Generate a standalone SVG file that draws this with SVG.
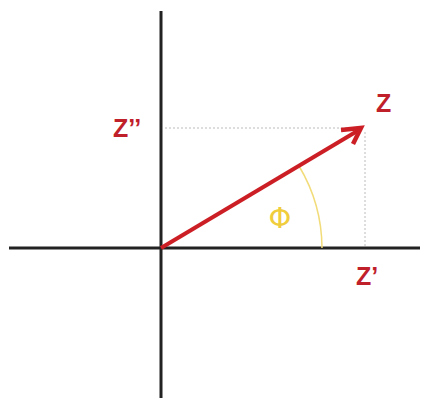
<svg xmlns="http://www.w3.org/2000/svg" width="422" height="403" viewBox="0 0 422 403">
<style>
.axis{stroke:#222;stroke-width:3;fill:none}
.dot{stroke:#bbb;stroke-width:1;stroke-dasharray:2 2;fill:none}
.lbl{font-family:"Liberation Sans",Arial,sans-serif;font-weight:bold;font-size:25px;fill:#c0202a}
</style>
<rect width="422" height="403" fill="#fff"/>
<g id="axes">
<line class="axis" x1="9" y1="248" x2="420" y2="248"/>
<line class="axis" x1="161" y1="11" x2="161" y2="398"/>
</g>
<g id="guides">
<line class="dot" x1="165" y1="128" x2="360" y2="128"/>
<line class="dot" x1="365" y1="132" x2="365" y2="246"/>
</g>
<g id="angle">
<path d="M299,166 A161,161 0 0 1 322,248" fill="none" stroke="#f2dc7a" stroke-width="1.5"/>
<text x="280" y="228" text-anchor="middle" font-family="'DejaVu Sans',sans-serif" font-size="29" fill="#f0cd3c">Φ</text>
</g>
<g id="vector">
<line x1="161" y1="248" x2="359" y2="130" stroke="#cc1f25" stroke-width="4"/>
<polyline points="341,130 361,128 353,144" fill="none" stroke="#cc1f25" stroke-width="4.5" stroke-linejoin="miter" stroke-linecap="butt"/>
</g>
<g id="labels">
<text class="lbl" x="113" y="137">Z’’</text>
<text class="lbl" x="376" y="112">Z</text>
<text class="lbl" x="356" y="285">Z’</text>
</g>
</svg>
